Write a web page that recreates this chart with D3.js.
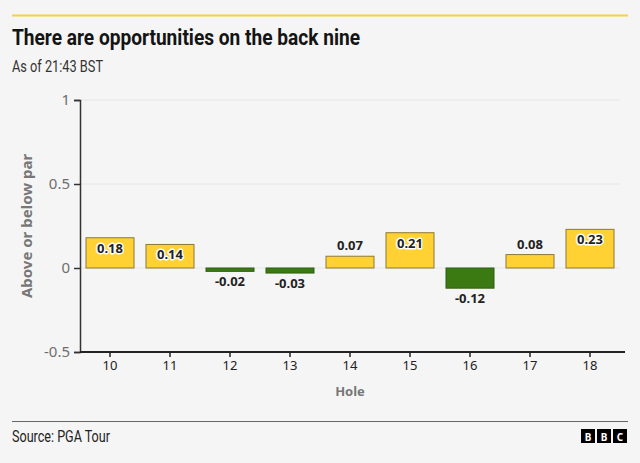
<!DOCTYPE html>
<html>
<head>
<meta charset="utf-8">
<script src="https://cdn.jsdelivr.net/npm/d3@7"></script>
<style>
  body { margin: 0; background: #f5f5f5; }
  svg { display: block; font-family: "Noto Sans", "Open Sans", sans-serif; }
  .head { font-family: Roboto, "Noto Sans", sans-serif; }
</style>
</head>
<body>
<div id="chart"></div>
<script>
var holes = ["10", "11", "12", "13", "14", "15", "16", "17", "18"];
var scoreVsPar = [0.18, 0.14, -0.02, -0.03, 0.07, 0.21, -0.12, 0.08, 0.23];
var yTicks = [-0.5, 0, 0.5, 1];

var width = 640, height = 463;
var margin = {left: 80, right: 20, top: 100, bottom: 111};
var fmt = v => d3.format(".2f")(v).replace("\u2212", "-");

var svg = d3.select("#chart").append("svg")
  .attr("width", width)
  .attr("height", height);

svg.append("rect").attr("width", width).attr("height", height).attr("fill", "#f5f5f5");

// top rule
svg.append("line")
  .attr("x1", 12).attr("x2", 628).attr("y1", 15.5).attr("y2", 15.5)
  .attr("stroke", "#f6d23a").attr("stroke-width", 2);

svg.append("text")
  .attr("class", "head")
  .attr("x", 12).attr("y", 45)
  .attr("font-size", 22).attr("font-weight", "bold").attr("fill", "#141414")
  .attr("textLength", 348).attr("lengthAdjust", "spacingAndGlyphs")
  .text("There are opportunities on the back nine");

svg.append("text")
  .attr("class", "head")
  .attr("x", 12).attr("y", 72)
  .attr("font-size", 16).attr("fill", "#333")
  .attr("textLength", 91).attr("lengthAdjust", "spacingAndGlyphs")
  .text("As of 21:43 BST");

var x = d3.scaleBand()
  .domain(holes)
  .range([margin.left, width - margin.right])
  .paddingInner(0.2)
  .paddingOuter(0.1);

var y = d3.scaleLinear()
  .domain([-0.5, 1])
  .range([height - margin.bottom, margin.top]);

// faint gridlines
svg.append("g")
  .selectAll("line")
  .data(yTicks.filter(d => d > -0.5))
  .enter().append("line")
  .attr("x1", margin.left).attr("x2", width - margin.right)
  .attr("y1", d => y(d)).attr("y2", d => y(d))
  .attr("stroke", "#e6e6e6");

var data = holes.map((h, i) => ({hole: h, val: scoreVsPar[i]}));

svg.append("g")
  .selectAll("rect")
  .data(data)
  .enter().append("rect")
  .attr("x", d => x(d.hole))
  .attr("width", x.bandwidth())
  .attr("y", d => y(Math.max(0, d.val)))
  .attr("height", d => Math.abs(y(d.val) - y(0)))
  .attr("fill", d => d.val >= 0 ? "#ffd133" : "#3b7a12")
  .attr("stroke", d => d.val >= 0 ? "#8b7a35" : "#2f5f10")
  .attr("stroke-width", 1);

// value labels
var inside = d => d.val > 0 && y(0) - y(d.val) > 20;
svg.append("g")
  .selectAll("text")
  .data(data)
  .enter().append("text")
  .attr("x", d => x(d.hole) + x.bandwidth() / 2)
  .attr("y", function(d) {
    if (d.val < 0) return y(d.val) + 15;
    return inside(d) ? y(d.val) + 15 : y(d.val) - 6;
  })
  .attr("text-anchor", "middle")
  .attr("font-size", 13)
  .attr("font-weight", "bold")
  .attr("fill", "#222")
  .attr("stroke", d => inside(d) ? "#fff" : "none")
  .attr("stroke-width", 3)
  .attr("stroke-linejoin", "round")
  .attr("paint-order", "stroke")
  .text(d => fmt(d.val));

// y axis
var yAxis = svg.append("g")
  .attr("transform", "translate(" + margin.left + ",0)")
  .call(d3.axisLeft(y).tickValues(yTicks).tickFormat(d => String(d)).tickSize(6).tickPadding(4));
yAxis.selectAll("path, line").attr("stroke", "#333").attr("stroke-width", 1.5);
yAxis.selectAll("text").attr("font-size", 15).attr("fill", "#6e6e6e").attr("font-family", "Noto Sans");

// x axis
var xAxis = svg.append("g")
  .attr("transform", "translate(0," + y(-0.5) + ")")
  .call(d3.axisBottom(x).tickSize(5).tickSizeOuter(0).tickPadding(4));
xAxis.select("path").attr("stroke", "#222").attr("stroke-width", 2)
  .attr("d", "M" + margin.left + ",0H" + (width - margin.right + 5));
xAxis.selectAll("line").attr("stroke", "#222").attr("stroke-width", 1.5);
xAxis.selectAll("text").attr("font-size", 13).attr("fill", "#222").attr("font-family", "Noto Sans");

svg.append("text")
  .attr("transform", "translate(32," + y(0.25) + ") rotate(-90)")
  .attr("text-anchor", "middle")
  .attr("font-size", 15).attr("font-weight", "bold").attr("fill", "#777")
  .text("Above or below par");

svg.append("text")
  .attr("x", (margin.left + width - margin.right) / 2)
  .attr("y", 396)
  .attr("text-anchor", "middle")
  .attr("font-size", 13).attr("font-weight", "bold").attr("fill", "#777")
  .text("Hole");

// footer
svg.append("line")
  .attr("x1", 12).attr("x2", 628).attr("y1", 421.5).attr("y2", 421.5)
  .attr("stroke", "#666").attr("stroke-width", 1);

svg.append("text")
  .attr("class", "head")
  .attr("x", 12).attr("y", 442)
  .attr("font-size", 16).attr("fill", "#222")
  .attr("textLength", 98).attr("lengthAdjust", "spacingAndGlyphs")
  .text("Source: PGA Tour");

var logo = svg.append("g").attr("transform", "translate(581,429)");
["B", "B", "C"].forEach(function(l, i) {
  logo.append("rect").attr("x", i * 16).attr("width", 14).attr("height", 14).attr("fill", "#000");
  logo.append("text").attr("x", i * 16 + 7).attr("y", 11.5)
    .attr("text-anchor", "middle").attr("font-size", 10).attr("font-weight", "bold")
    .attr("fill", "#fff").text(l);
});
</script>
</body>
</html>
